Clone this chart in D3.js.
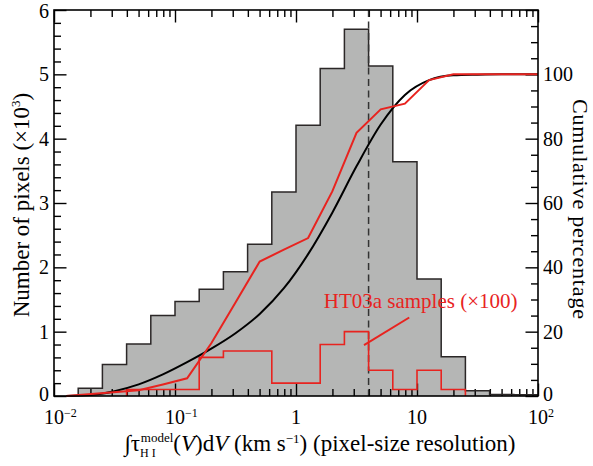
<!DOCTYPE html>
<html><head><meta charset="utf-8">
<script src="https://cdn.jsdelivr.net/npm/d3@7"></script>
<style>body{margin:0;background:#fff}svg{display:block}</style>
</head><body>
<svg id="c" width="593" height="466"></svg>
<script>
// ---- data ----
const grayEdgesLog = [-1.8,-1.6,-1.4,-1.2,-1.0,-0.8,-0.6,-0.4,-0.2,0.0,0.2,0.4,0.6,0.8,1.0,1.2,1.4,1.6,1.8,2.0];
const grayCounts = [0.12,0.49,0.81,1.25,1.47,1.66,1.93,2.36,3.17,4.21,5.09,5.70,5.13,3.64,1.82,0.61,0.08,0.025,0.02];
const redEdgesLog = [-1.4,-1.2,-1.0,-0.8,-0.6,-0.4,-0.2,0.0,0.2,0.4,0.6,0.8,1.0,1.2,1.4];
const redCounts = [0.1,0.1,0.1,0.6,0.7,0.7,0.2,0.2,0.8,1.0,0.4,0.1,0.4,0.1];
const blackCumX = [-1.9,-1.7,-1.5,-1.3,-1.1,-0.9,-0.7,-0.5,-0.3,-0.1,0.1,0.3,0.5,0.7,0.9,1.1,1.3,1.5,1.7,1.9,2.0];
const blackCumY = [0,0.3,1.5,3.6,6.7,10.5,14.7,19.5,25.5,33.5,44.1,57.0,71.4,84.4,93.6,98.2,99.7,99.9,100,100,100];
const redCumX = [-1.9,-1.3,-1.1,-0.9,-0.7,-0.5,-0.3,-0.1,0.1,0.3,0.5,0.7,0.9,1.1,1.3,2.0];
const redCumY = [0,1.8,3.6,5.5,16.4,29.1,41.8,45.5,49.1,63.6,81.8,89.1,90.9,98.2,100,100];
const medianX = 3.98;
const xMajor = [0.01,0.1,1,10,100];
const xLabels = [["10","−2"],["10","−1"],["1",""],["10",""],["10","2"]];
const yLeftTicks = [0,1,2,3,4,5,6];
const yRightTicks = [0,20,40,60,80,100];
const annText = "HT03a samples (×100)";

// ---- layout ----
const FONT='"Liberation Serif"';
const L=54,R=538,T=10,B=396;
const svg=d3.select("#c");
const x=d3.scaleLog().domain([0.01,100]).range([L,R]);
const y=d3.scaleLinear().domain([0,6]).range([B,T]);
const y2=d3.scaleLinear().domain([0,120]).range([B,T]);
const red="#e8231f";

function stepPath(edgesLog,counts){
  const p=d3.path();
  p.moveTo(x(10**edgesLog[0]),y(0));
  counts.forEach((c,i)=>{p.lineTo(x(10**edgesLog[i]),y(c));p.lineTo(x(10**edgesLog[i+1]),y(c));});
  p.lineTo(x(10**edgesLog[edgesLog.length-1]),y(0));
  return p.toString();
}
svg.append("path").attr("d",stepPath(grayEdgesLog,grayCounts)+"Z").attr("fill","#b5b6b5").attr("stroke","none");

// ticks
const minor=[];for(let d=-2;d<2;d++)for(let k=2;k<=9;k++)minor.push(k*10**d);
const gA=svg.append("g");
function ax(gen,tr){const g=gA.append("g").attr("transform",tr).call(gen);g.selectAll("text").remove();g.select(".domain").remove();g.selectAll("line").attr("stroke","#000").attr("stroke-width",1.4);}
ax(d3.axisBottom(x).tickValues(xMajor).tickSize(-12.5),`translate(0,${B})`);
ax(d3.axisBottom(x).tickValues(minor).tickSize(-7),`translate(0,${B})`);
ax(d3.axisTop(x).tickValues(xMajor).tickSize(-12.5),`translate(0,${T})`);
ax(d3.axisTop(x).tickValues(minor).tickSize(-7),`translate(0,${T})`);
ax(d3.axisLeft(y).tickValues(yLeftTicks).tickSize(-12.5),`translate(${L},0)`);
ax(d3.axisLeft(y).tickValues(d3.range(0,6.01,0.2).filter(v=>Math.abs(v-Math.round(v))>0.01)).tickSize(-7),`translate(${L},0)`);
ax(d3.axisRight(y2).tickValues(d3.range(0,121,20)).tickSize(-12.5),`translate(${R},0)`);
ax(d3.axisRight(y2).tickValues(d3.range(0,121,5).filter(v=>v%20)).tickSize(-7),`translate(${R},0)`);

// gray outline
svg.append("path").attr("d",stepPath(grayEdgesLog,grayCounts)).attr("fill","none").attr("stroke","#2b2727").attr("stroke-width",1.5);
// dashed median
svg.append("line").attr("x1",x(medianX)).attr("x2",x(medianX)).attr("y1",T).attr("y2",B).attr("stroke","#333").attr("stroke-width",1.5).attr("stroke-dasharray","7,4.5");
// red hist
svg.append("path").attr("d",stepPath(redEdgesLog,redCounts)).attr("fill","none").attr("stroke",red).attr("stroke-width",1.6);
// black cumulative
svg.append("path").datum(blackCumX.map((v,i)=>[v,blackCumY[i]]))
  .attr("d",d3.line().x(d=>x(10**d[0])).y(d=>y2(d[1])).curve(d3.curveMonotoneX))
  .attr("fill","none").attr("stroke","#000").attr("stroke-width",2);
// red cumulative
svg.append("path").datum(redCumX.map((v,i)=>[v,redCumY[i]]))
  .attr("d",d3.line().x(d=>x(10**d[0])).y(d=>y2(d[1])))
  .attr("fill","none").attr("stroke",red).attr("stroke-width",2);

// frame
svg.append("rect").attr("x",L).attr("y",T).attr("width",R-L).attr("height",B-T).attr("fill","none").attr("stroke","#000").attr("stroke-width",1.6);

// annotation
svg.append("line").attr("x1",x(10**0.562)).attr("y1",y(0.79)).attr("x2",x(10**0.936)).attr("y2",y(1.22)).attr("stroke",red).attr("stroke-width",2);
svg.append("text").attr("x",x(10**1.03)).attr("y",y(1.37)).attr("text-anchor","middle").attr("font-size",21).attr("fill",red).text(annText);

// tick labels
xMajor.forEach((v,i)=>{
  const [b,e]=xLabels[i];
  const t=svg.append("text").attr("y",423.5).attr("font-size",20).attr("fill","#000");
  t.append("tspan").text(b);
  if(e){t.append("tspan").attr("font-size",12).attr("dy",-7).text(e);t.attr("x",x(v)-10).attr("text-anchor","start");}
  else t.attr("x",x(v)).attr("text-anchor","middle");
});
yLeftTicks.forEach(v=>svg.append("text").attr("x",49).attr("y",y(v)+(v===0?5:v===6?7.5:7)).attr("text-anchor","end").attr("font-size",20).text(v));
yRightTicks.forEach(v=>svg.append("text").attr("x",543).attr("y",y2(v)+(v===0?5:7)).attr("text-anchor","start").attr("font-size",20).text(v));

// axis titles
const xt=svg.append("text").attr("x",320).attr("y",451).attr("text-anchor","middle").attr("font-size",23);
xt.append("tspan").text("∫τ");
xt.append("tspan").attr("font-size",12).attr("dy",6).text("H I");
xt.append("tspan").attr("font-size",13).attr("dx",-15).attr("dy",-15).text("model");
xt.append("tspan").attr("dy",9).text("(");
xt.append("tspan").attr("font-style","italic").text("V");
xt.append("tspan").text(")d");
xt.append("tspan").attr("font-style","italic").text("V");
xt.append("tspan").text(" (km s");
xt.append("tspan").attr("font-size",13).attr("dy",-8).text("−1");
xt.append("tspan").attr("dy",8).text(") (pixel-size resolution)");

const yt=svg.append("text").attr("transform","translate(29,205) rotate(-90)").attr("text-anchor","middle").attr("font-size",23);
yt.append("tspan").text("Number of pixels (×10");
yt.append("tspan").attr("font-size",13).attr("dy",-9).text("3");
yt.append("tspan").attr("dy",9).text(")");

svg.append("text").attr("transform","translate(573,209) rotate(90)").attr("text-anchor","middle").attr("font-size",22)
  .attr("textLength",220).attr("lengthAdjust","spacing").text("Cumulative percentage");

svg.selectAll("text").attr("font-family",FONT).style("font-family",FONT);
svg.selectAll("tspan").attr("font-family",FONT).style("font-family",FONT);
</script>
</body></html>
